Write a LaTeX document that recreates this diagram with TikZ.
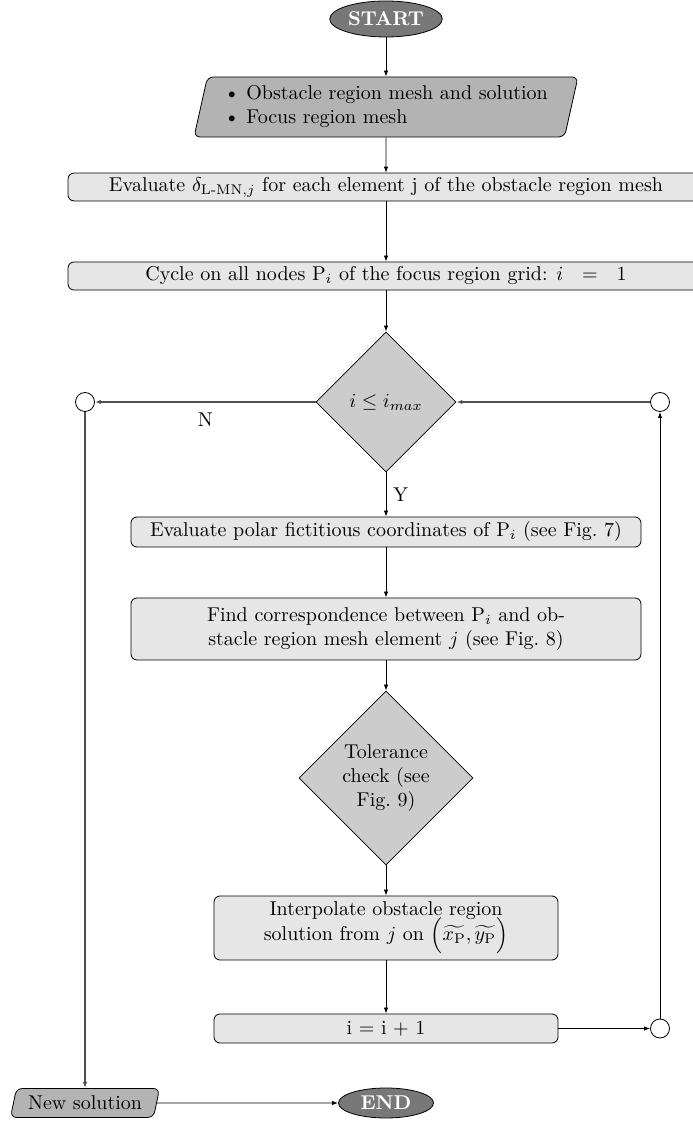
\documentclass[tikz,border=0pt]{standalone}
\usepackage{amsmath,amssymb}
\usepackage{tikz}
\usetikzlibrary{shapes.geometric, arrows.meta, positioning}
\definecolor{FlowTerm}{RGB}{120, 120, 120}
\definecolor{FlowIO}{RGB}{179, 179, 179}
\definecolor{FlowDecision}{RGB}{204, 204, 204}
\definecolor{FlowProcess}{RGB}{230, 230, 230}
\definecolor{FlowLine}{RGB}{80, 80, 80}

\tikzset{
  terminal/.style={ellipse, draw, fill=FlowTerm, text=white, font=\bfseries, inner sep=1pt},
  iobox/.style={trapezium, trapezium left angle=75, trapezium right angle=105,
    trapezium stretches body, draw, fill=FlowIO, rounded corners=3pt, inner sep=2pt},
  procbox/.style={rectangle, draw, fill=FlowProcess, rounded corners=3pt, align=center, inner sep=2pt},
  decision/.style={diamond, draw, fill=FlowDecision, aspect=1, align=center, inner sep=1pt},
  junction/.style={circle, draw, fill=white, minimum size=9.5pt, inner sep=0pt},
  flow/.style={-{Latex[length=3pt,width=2.2pt]}},
  loopflow/.style={flow, draw=FlowLine, line width=0.6pt},
}

\begin{document}
\begin{tikzpicture}[x=1pt,y=1pt]
  \useasboundingbox (0,0) rectangle (346,563);

  % main column
  \node[terminal, minimum width=51pt, minimum height=18pt] (start) at (193,553.5) {START};
  \node[iobox, align=left, minimum width=192pt, minimum height=30pt] (input) at (193,509.5) {
    \textbullet\ Obstacle region mesh and solution\\
    \textbullet\ Focus region mesh};
  \node[procbox, minimum width=318pt, minimum height=13pt] (delta) at (193,469.5)
    {Evaluate $\delta_{\text{L-MN},j}$ for each element j of the obstacle region mesh};
  \node[procbox, minimum width=318pt, minimum height=14pt] (cycle) at (193,425)
    {Cycle on all nodes P$_i$ of the focus region grid: $i\ \ =\ \ 1$};
  \node[decision, minimum width=70pt, minimum height=70pt] (check) at (193,362) {$i\le i_{max}$};
  \node[procbox, minimum width=255pt, minimum height=15pt] (polar) at (193,297)
    {Evaluate polar fictitious coordinates of P$_i$ (see Fig.~7)};
  \node[procbox, minimum width=255pt, minimum height=31pt] (corr) at (193,248.5)
    {Find correspondence between P$_i$ and ob-\\stacle region mesh element $j$ (see Fig.~8)};
  \node[decision, minimum width=87pt, minimum height=87pt] (tol) at (193,174)
    {Tolerance\\check (see\\Fig.~9)};
  \node[procbox, minimum width=172pt, minimum height=32pt] (interp) at (193,99)
    {Interpolate obstacle region\\[-2pt]solution from $j$ on
     $\Big(\widetilde{x_{\mathrm{P}}},\widetilde{y_{\mathrm{P}}}\Big)$};
  \node[procbox, minimum width=172pt, minimum height=14.5pt] (incr) at (193,48.75) {i = i + 1};

  % loop junctions
  \node[junction] (jleft) at (42.5,362) {};
  \node[junction] (jtop) at (330,362) {};
  \node[junction] (jbot) at (330,48.75) {};

  % exit
  \node[iobox, minimum width=74.5pt, minimum height=14.5pt] (newsol) at (42.5,11.5) {New solution};
  \node[terminal, minimum width=47.5pt, minimum height=15pt] (end) at (193,11.5) {END};

  % connectors
  \draw[flow] (start) -- (input);
  \draw[flow] (input) -- (delta);
  \draw[flow] (delta) -- (cycle);
  \draw[flow] (cycle) -- (check);
  \draw[flow] (check.south) -- node[midway, right] {Y} (polar);
  \draw[flow] (polar) -- (corr);
  \draw[flow] (corr) -- (tol);
  \draw[flow] (tol) -- (interp);
  \draw[flow] (interp) -- (incr);
  \draw[flow] (incr.east) -- (jbot);
  \draw[flow] (jbot) -- (jtop);
  \draw[loopflow] (jtop) -- (check.east);
  \draw[loopflow] (check.west) -- node[midway, below=2pt] {N} (jleft);
  \draw[loopflow] (jleft) -- (newsol.north -| jleft);
  \draw[flow] (newsol) -- (end);
\end{tikzpicture}
\end{document}
